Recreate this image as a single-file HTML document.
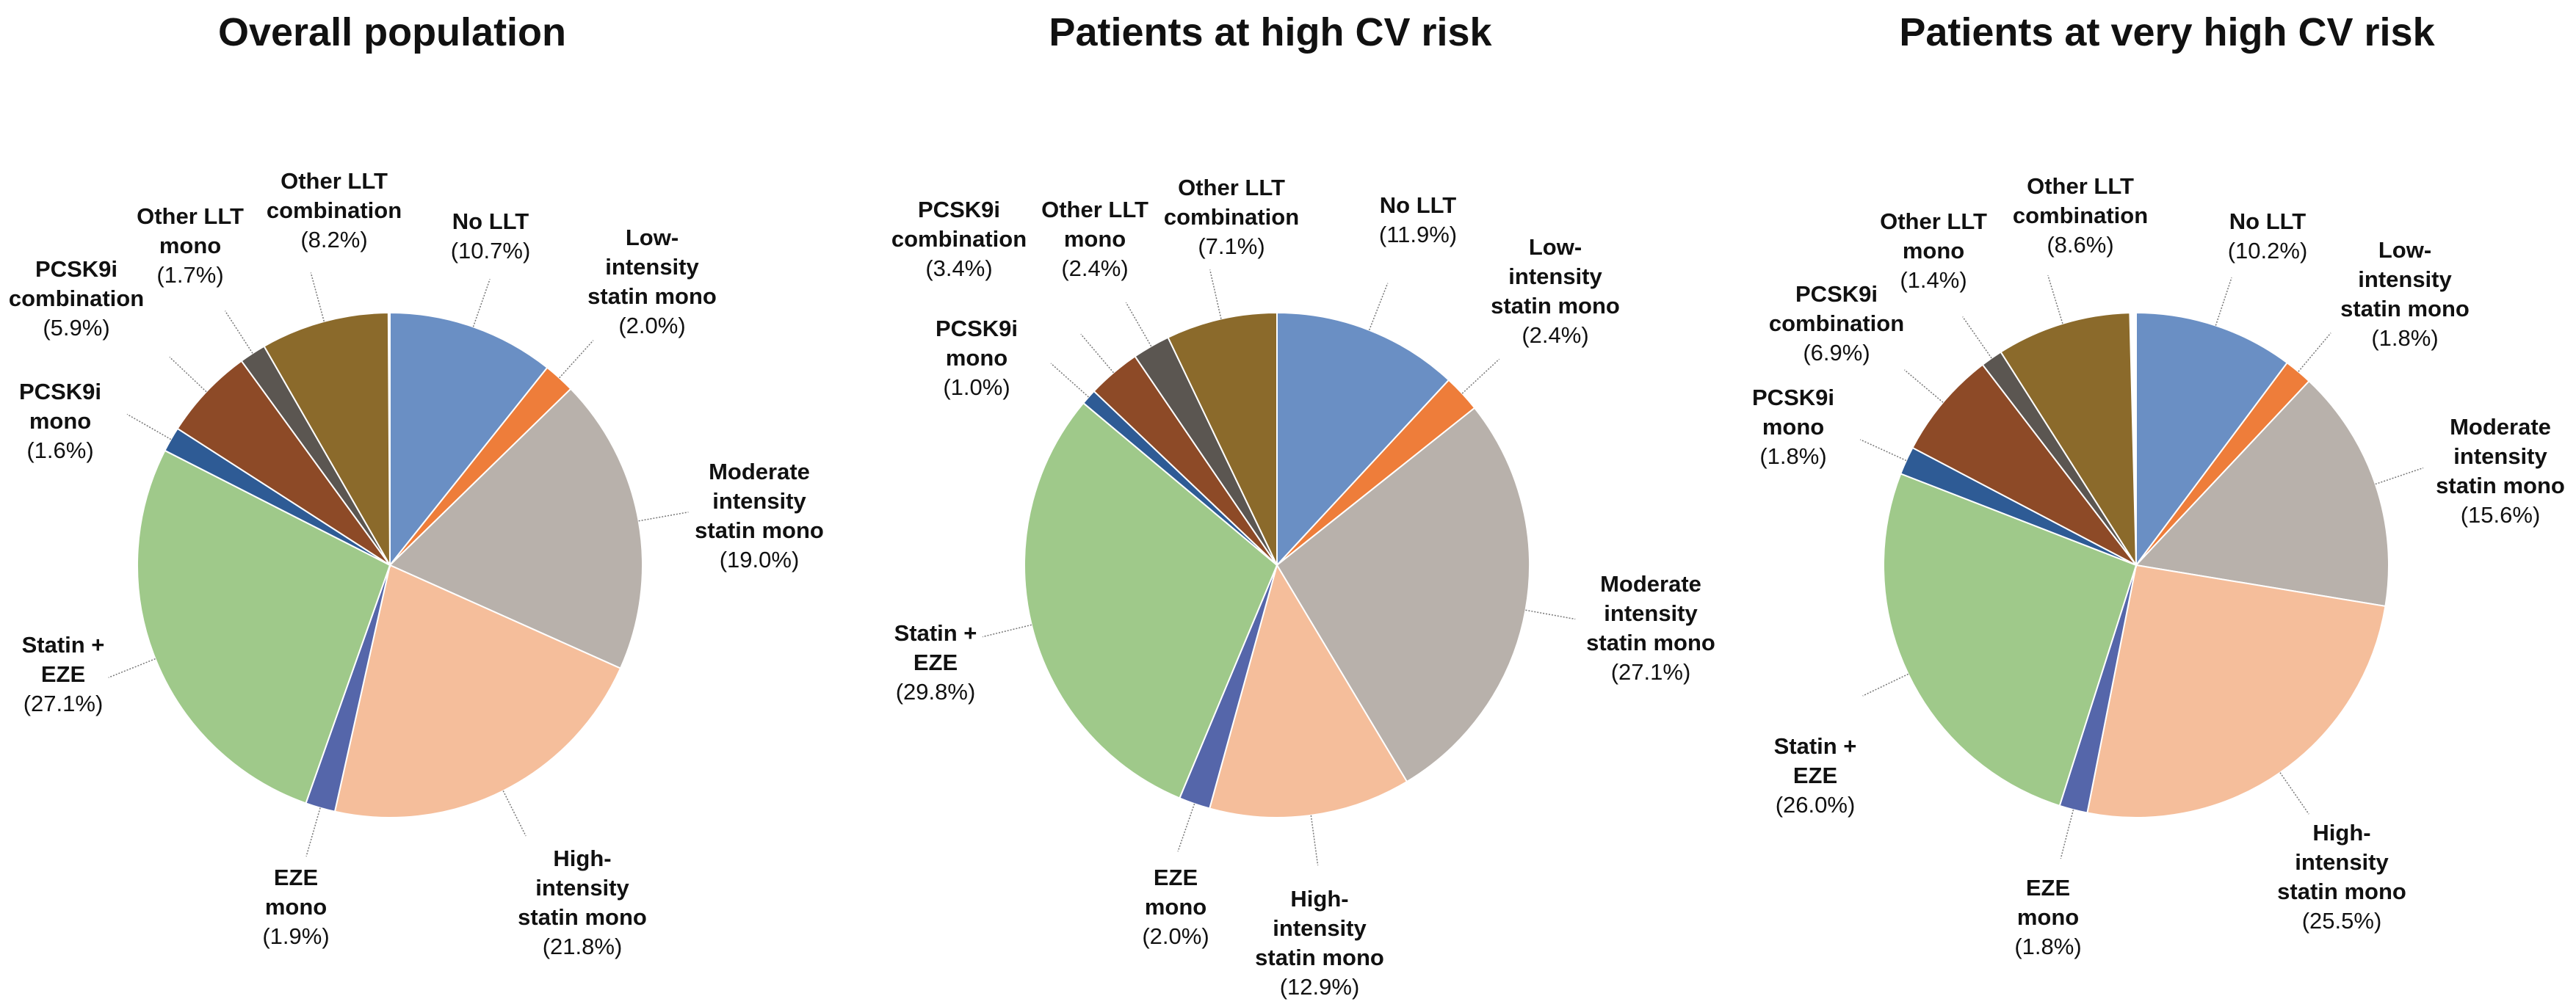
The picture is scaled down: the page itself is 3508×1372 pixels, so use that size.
<!DOCTYPE html>
<html><head><meta charset="utf-8"><style>
html,body{margin:0;padding:0;background:#fff;}
svg{display:block;}
text{font-family:"Liberation Sans",Arial,sans-serif;fill:#111;}
</style></head><body>
<svg id="chart" width="3508" height="1372" viewBox="0 0 3508 1372" xmlns="http://www.w3.org/2000/svg"></svg>
<script>
const categories = ["No LLT","Low-intensity statin mono","Moderate intensity statin mono","High-intensity statin mono","EZE mono","Statin + EZE","PCSK9i mono","PCSK9i combination","Other LLT mono","Other LLT combination"];
const labelLines = [["No LLT"],["Low-","intensity","statin mono"],["Moderate","intensity","statin mono"],["High-","intensity","statin mono"],["EZE","mono"],["Statin +","EZE"],["PCSK9i","mono"],["PCSK9i","combination"],["Other LLT","mono"],["Other LLT","combination"]];
const colors = ["#6a8fc4","#ee7d3a","#b8b1ab","#f5be9b","#5566aa","#9fc98a","#2e5b95","#8d4a27","#5b5651","#8b6a2b"];
const titles = ["Overall population","Patients at high CV risk","Patients at very high CV risk"];
const valuesOverall = [10.7,2.0,19.0,21.8,1.9,27.1,1.6,5.9,1.7,8.2];
const valuesHigh = [11.9,2.4,27.1,12.9,2.0,29.8,1.0,3.4,2.4,7.1];
const valuesVeryHigh = [10.2,1.8,15.6,25.5,1.8,26.0,1.8,6.9,1.4,8.6];
const seriesValues = [valuesOverall,valuesHigh,valuesVeryHigh];

const CY = 770, R = 344;
const centers = [531, 1739, 2909];
const titleX = [534,1730,2951];
const labelPos = [
 [[668,289],[888,311],[1034,630],[793,1157],[403,1183],[86,866],[82,521],[104,354],[259,282],[455,234]],
 [[1931,267],[2118,324],[2248,783],[1797,1212],[1601,1183],[1274,850],[1330,435],[1306,273],[1491,273],[1677,243]],
 [[3088,289],[3275,328],[3405,569],[3189,1122],[2789,1197],[2472,1004],[2442,529],[2501,388],[2633,289],[2833,241]]
];
const NS = "http://www.w3.org/2000/svg";
const svg = document.getElementById('chart');
function mk(tag, attrs){const e=document.createElementNS(NS,tag);for(const k in attrs)e.setAttribute(k,attrs[k]);return e;}
function angleScale(v,total){return v/total*2*Math.PI;}
function pt(cx,a,r){return [cx+r*Math.sin(a), CY-r*Math.cos(a)];}

seriesValues.forEach((vals,pi)=>{
  const g = mk('g',{});
  
  
  svg.appendChild(g);
  const t = mk('text',{x:titleX[pi],y:62,'text-anchor':'middle','font-size':54,'font-weight':'bold'});
  
  
  t.textContent = titles[pi];
  g.appendChild(t);
  const total = 100;
  const cx = centers[pi];
  let a0 = 0;
  vals.forEach((v,i)=>{
    const a1 = a0 + angleScale(v,total);
    const p0 = pt(cx,a0,R), p1 = pt(cx,a1,R);
    const large = (a1-a0)>Math.PI?1:0;
    const path = mk('path',{d:`M${cx},${CY} L${p0[0]},${p0[1]} A${R},${R} 0 ${large} 1 ${p1[0]},${p1[1]} Z`,fill:colors[i],stroke:'#fff','stroke-width':2});
    
    
    g.appendChild(path);
    const am = (a0+a1)/2;
    const l0 = pt(cx,am,R*1.0), l1 = pt(cx,am,R*1.2);
    const ln = mk('line',{x1:l0[0],y1:l0[1],x2:l1[0],y2:l1[1],stroke:'#777','stroke-width':1.5,'stroke-dasharray':'2,2'});
    
    
    g.appendChild(ln);
    const [lx,ly] = labelPos[pi][i];
    const lines = labelLines[i].concat(['('+v.toFixed(1)+'%)']);
    const tx = mk('text',{'text-anchor':'middle','font-size':31});
    
    
    lines.forEach((s,k)=>{
      const ts = mk('tspan',{x:lx,y:ly+23+k*40,'font-weight':k<lines.length-1?'bold':'normal'});
      ts.textContent = s;
      tx.appendChild(ts);
    });
    g.appendChild(tx);
    a0 = a1;
  });
});
</script>
</body></html>
